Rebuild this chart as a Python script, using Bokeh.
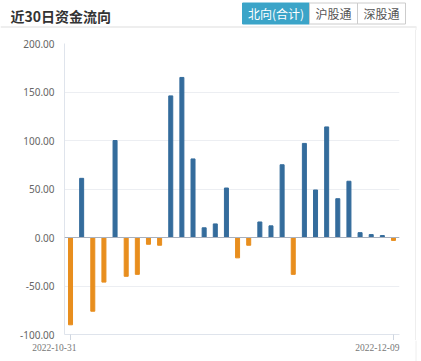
from bokeh.plotting import figure
from bokeh.models import Range1d, FixedTicker, Span, Spacer
from bokeh.layouts import column, row
from bokeh.core.properties import value
from bokeh.embed import file_html
from bokeh.resources import INLINE

# ---- data ----
dates = ["2022-10-31", "2022-11-01", "2022-11-02", "2022-11-03", "2022-11-04",
         "2022-11-07", "2022-11-08", "2022-11-09", "2022-11-10", "2022-11-11",
         "2022-11-14", "2022-11-15", "2022-11-16", "2022-11-17", "2022-11-18",
         "2022-11-21", "2022-11-22", "2022-11-23", "2022-11-24", "2022-11-25",
         "2022-11-28", "2022-11-29", "2022-11-30", "2022-12-01", "2022-12-02",
         "2022-12-05", "2022-12-06", "2022-12-07", "2022-12-08", "2022-12-09"]
values = [-90, 61, -76, -46, 100, -40, -38, -7, -8, 146,
          165, 81, 10, 14, 51, -21, -8, 16, 12, 75,
          -38, 97, 49, 114, 40, 58, 5, 3, 2, -3]
y_ticks = [-100, -50, 0, 50, 100, 150, 200]
y_tick_labels = ["-100.00", "-50.00", "0.00", "50.00", "100.00", "150.00", "200.00"]
x_label_idx = [0, len(dates) - 1]
title_text = "近30日资金流向"
tabs = ["北向(合计)", "沪股通", "深股通"]

BLUE = "#346c9c"
ORANGE = "#e88e1e"
TEAL = "#3ba4c8"

idx = list(range(len(dates)))
colors = [BLUE if v >= 0 else ORANGE for v in values]

# ---- layout geometry (pixels) ----
W = 421
HEADER_H = 30
MAIN_W = 415
FRAME_L, FRAME_R_BORDER, FRAME_T = 64, 16, 13
FRAME_W = MAIN_W - FRAME_L - FRAME_R_BORDER
MAIN_H = 310
FOOT_H = 21
PAD = 0.54
x_start, x_end = -PAD, len(dates) - 1 + PAD
ppu = FRAME_W / (x_end - x_start)

# ---- header ----
h = figure(width=W, height=HEADER_H, output_backend="svg", toolbar_location=None,
           x_range=Range1d(0, W), y_range=Range1d(HEADER_H, 0),
           x_axis_type=None, y_axis_type=None, min_border=0)
h.outline_line_color = None
h.xgrid.grid_line_color = None
h.ygrid.grid_line_color = None
h.text(x=[10], y=[15], text=[title_text], text_font=value("Noto Sans CJK SC"),
       text_font_style="bold", text_font_size="14px", text_color="#333333",
       text_baseline="middle", text_align="left")
tab_edges = [242, 309, 357, 405]
h.quad(left=tab_edges[:-1], right=tab_edges[1:], top=[2.5] * 3, bottom=[23.5] * 3,
       fill_color=[TEAL, "white", "white"], line_color=[TEAL, "#cccccc", "#cccccc"], line_width=1)
h.text(x=[(a + b) / 2 for a, b in zip(tab_edges[:-1], tab_edges[1:])], y=[13] * 3, text=tabs,
       text_font=value("Noto Sans CJK SC"), text_font_size="12px",
       text_color=["white", "#555555", "#555555"], text_align="center", text_baseline="middle")
h.segment(x0=[0], y0=[26.5], x1=[416], y1=[26.5], line_color="#dddddd", line_width=1)
h.segment(x0=[415.5], y0=[26.5], x1=[415.5], y1=[HEADER_H], line_color="#eeeeee", line_width=1)

# ---- main chart ----
p = figure(width=MAIN_W, height=MAIN_H, output_backend="svg", toolbar_location=None,
           x_range=Range1d(x_start, x_end), y_range=Range1d(-100, 200),
           min_border_left=FRAME_L, min_border_right=FRAME_R_BORDER,
           min_border_top=FRAME_T, min_border_bottom=6)
p.outline_line_color = None
p.vbar(x=idx, top=values, bottom=0, width=0.36, color=colors)

p.yaxis.ticker = FixedTicker(ticks=y_ticks)
p.yaxis.major_label_overrides = {t: s for t, s in zip(y_ticks, y_tick_labels)}
p.yaxis.major_tick_out = 0
p.yaxis.major_tick_in = 0
p.yaxis.minor_tick_out = 0
p.yaxis.minor_tick_in = 0
p.yaxis.axis_line_color = "#dfe4ec"
p.yaxis.major_label_standoff = 10
p.yaxis.major_label_text_font = "Noto Sans"
p.yaxis.major_label_text_font_size = "10px"
p.yaxis.major_label_text_color = "#666666"

p.xaxis.ticker = FixedTicker(ticks=x_label_idx)
p.xaxis.major_label_overrides = {i: "" for i in x_label_idx}
p.xaxis.major_label_text_font_size = "0px"
p.xaxis.major_label_standoff = 0
p.xaxis.major_tick_out = 6
p.xaxis.major_tick_in = 0
p.xaxis.minor_tick_out = 0
p.xaxis.minor_tick_in = 0
p.xaxis.axis_line_color = "#dfe4ec"
p.xaxis.major_tick_line_color = "#cfd6e0"

p.ygrid.ticker = FixedTicker(ticks=y_ticks)
p.ygrid.grid_line_color = "#eceef2"
p.xgrid.grid_line_color = None
p.add_layout(Span(location=0, dimension="width", line_color="#a8b0bd", line_width=1))

side = Spacer(width=1, height=MAIN_H, styles={"background-color": "#eeeeee"})

# ---- footer with x labels (same x scale as the chart) ----
f_start = x_start - FRAME_L / ppu
f = figure(width=W, height=FOOT_H, output_backend="svg", toolbar_location=None,
           x_range=Range1d(f_start, f_start + W / ppu), y_range=Range1d(FOOT_H, 0),
           x_axis_type=None, y_axis_type=None, min_border=0)
f.outline_line_color = None
f.xgrid.grid_line_color = None
f.ygrid.grid_line_color = None
f.text(x=x_label_idx, y=[7] * len(x_label_idx), text=[dates[i] for i in x_label_idx],
       text_align="right", text_baseline="middle", x_offset=6,
       text_font=value("Liberation Serif"), text_font_size="9.5px", text_color="#777777")
f.add_layout(Span(location=f_start + 415.5 / ppu, dimension="height", line_color="#eeeeee", line_width=1))

layout = column(h, row(p, side), f)
open("out.html", "w").write(file_html(layout, INLINE))
